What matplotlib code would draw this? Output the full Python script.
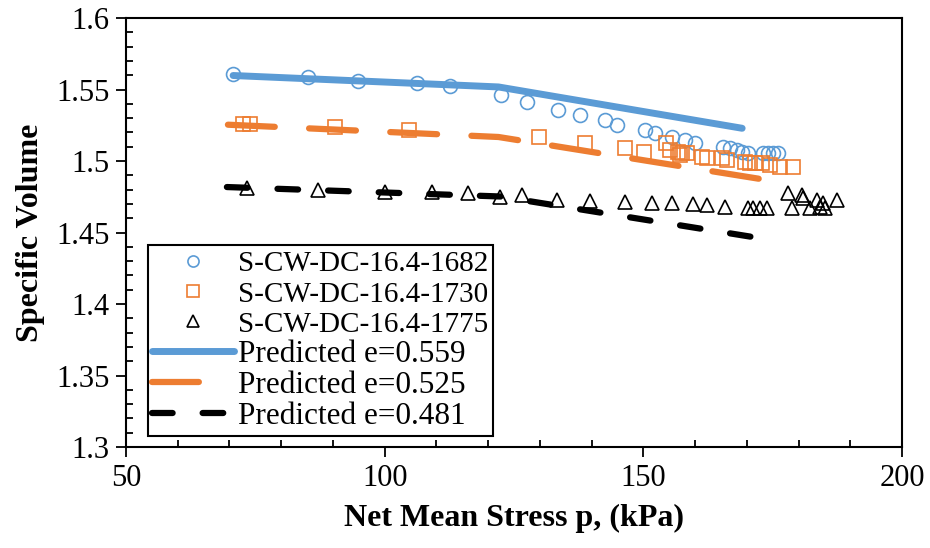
import matplotlib.pyplot as plt
from matplotlib.ticker import MultipleLocator

plt.rcParams['font.family'] = ['Liberation Serif', 'DejaVu Serif']

# measured specific volume, S-CW-DC-16.4-1682
p_1682 = [70.7, 85.2, 94.8, 106.3, 112.6, 122.5, 127.5, 133.5, 137.8, 142.6,
          144.9, 150.3, 152.3, 155.5, 158.1, 160.0, 165.4, 166.8, 168.1, 169.1,
          170.2, 173.1, 174.1, 175.1, 176.0]
v_1682 = [1.5608, 1.5587, 1.5559, 1.5545, 1.5524, 1.5462, 1.5413, 1.5357, 1.5322, 1.5287,
          1.5252, 1.5217, 1.5196, 1.5168, 1.5147, 1.5126, 1.5098, 1.5091, 1.5077, 1.5063,
          1.5056, 1.5056, 1.5056, 1.5056, 1.5056]

# S-CW-DC-16.4-1730
p_1730 = [72.6, 74.0, 90.4, 104.7, 129.8, 138.7, 146.5, 150.1, 154.4, 155.2,
          156.7, 157.0, 157.5, 158.4, 161.3, 162.3, 165.2, 166.2, 169.7, 170.6,
          171.6, 172.9, 174.5, 176.4, 178.9]
v_1730 = [1.5259, 1.5259, 1.5238, 1.5217, 1.5168, 1.5126, 1.5091, 1.5063, 1.5126, 1.5077,
          1.5063, 1.5040, 1.5056, 1.5056, 1.5028, 1.5021, 1.5021, 1.5007, 1.4993, 1.4986,
          1.4986, 1.4986, 1.4972, 1.4958, 1.4958]

# S-CW-DC-16.4-1775
p_1775 = [73.4, 87.1, 100.1, 109.2, 116.1, 122.3, 126.6, 133.3, 139.7, 146.5,
          151.7, 155.5, 159.6, 162.3, 165.8, 170.2, 171.2, 172.6, 173.9, 178.0,
          178.7, 180.7, 180.9, 182.2, 183.6, 184.2, 184.7, 185.1, 187.4]
v_1775 = [1.4811, 1.4797, 1.4783, 1.4783, 1.4776, 1.4748, 1.4762, 1.4727, 1.4720, 1.4713,
          1.4706, 1.4706, 1.4699, 1.4692, 1.4678, 1.4671, 1.4671, 1.4671, 1.4671, 1.4776,
          1.4671, 1.4762, 1.4741, 1.4671, 1.4727, 1.4678, 1.4706, 1.4671, 1.4727]

# predicted curves
pred_p_559 = [70.7, 122.0, 169.1]
pred_v_559 = [1.5598, 1.5518, 1.5229]
pred_p_525 = [69.7, 122.0, 175.1]
pred_v_525 = [1.5254, 1.5168, 1.4860]
pred_p_481 = [69.5, 122.3, 173.5]
pred_v_481 = [1.4818, 1.4752, 1.4455]

blue = '#5B9BD5'
orange = '#ED7D31'

fig = plt.figure(figsize=(9.3, 5.48), dpi=100)
ax = fig.add_axes([0.1355, 0.1843, 0.8344, 0.7828])

ax.plot(p_1682, v_1682, 'o', mfc='none', mec=blue, ms=10, mew=1.2,
        label='S-CW-DC-16.4-1682', zorder=3)
ax.plot(p_1730, v_1730, 's', mfc='none', mec=orange, ms=10, mew=1.2,
        label='S-CW-DC-16.4-1730', zorder=3)
ax.plot(p_1775, v_1775, '^', mfc='none', mec='black', ms=10.5, mew=1.2,
        label='S-CW-DC-16.4-1775', zorder=3)

ax.plot(pred_p_559, pred_v_559, '-', color=blue, lw=5, solid_capstyle='round',
        label='Predicted e=0.559', zorder=2)
ax.plot(pred_p_525, pred_v_525, color=orange, lw=4.5, dashes=(7.5, 5.5),
        dash_capstyle='round', label='Predicted e=0.525', zorder=2)
ax.plot(pred_p_481, pred_v_481, color='black', lw=4.5, dashes=(3.3, 4.8),
        dash_capstyle='round', label='Predicted e=0.481', zorder=2)

ax.set_xlim(50, 200)
ax.set_ylim(1.3, 1.6)
ax.xaxis.set_major_locator(MultipleLocator(50))
ax.xaxis.set_minor_locator(MultipleLocator(10))
ax.yaxis.set_minor_locator(MultipleLocator(0.01))
ax.set_yticks([1.3, 1.35, 1.4, 1.45, 1.5, 1.55, 1.6])
ax.set_yticklabels(['1.3', '1.35', '1.4', '1.45', '1.5', '1.55', '1.6'])
ax.tick_params(which='major', direction='out', length=7, width=1.3,
               labelsize=22, pad=5)
ax.tick_params(which='minor', direction='in', length=5, width=1.3)
for s in ax.spines.values():
    s.set_linewidth(1.5)

ax.set_xlabel('Net Mean Stress p, (kPa)', fontsize=23, fontweight='bold', labelpad=8)
ax.set_ylabel('Specific Volume', fontsize=23, fontweight='bold', labelpad=8)

leg = ax.legend(loc='lower left', bbox_to_anchor=(0.028, 0.026), fontsize=22.5,
                frameon=True, fancybox=False, edgecolor='black', framealpha=1,
                borderaxespad=0, handlelength=2.6, handletextpad=0.15,
                labelspacing=0.07, borderpad=0.15, markerscale=0.8)
leg.get_frame().set_linewidth(1.5)
# measured-series labels are narrower in the original
for t in leg.get_texts()[:3]:
    t.set_fontsize(21)
leg.get_lines()[4].set_dashes((7.5, 12))

fig.savefig('out.png', dpi=100)
